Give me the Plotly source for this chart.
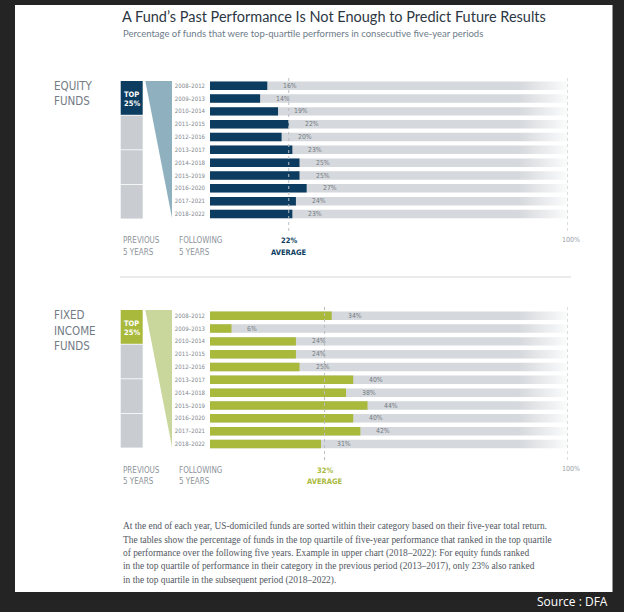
import plotly.graph_objects as go

# ---------------- data ----------------
periods = ["2008–2012", "2009–2013", "2010–2014", "2011–2015", "2012–2016", "2013–2017",
           "2014–2018", "2015–2019", "2016–2020", "2017–2021", "2018–2022"]
equity_pct = [16, 14, 19, 22, 20, 23, 25, 25, 27, 24, 23]
fixed_pct = [34, 6, 24, 24, 25, 40, 38, 44, 40, 42, 31]
full_scale = 100

title = "A Fund’s Past Performance Is Not Enough to Predict Future Results"
subtitle = "Percentage of funds that were top-quartile performers in consecutive five-year periods"
footnote = [
    "At the end of each year, US-domiciled funds are sorted within their category based on their five-year total return.",
    "The tables show the percentage of funds in the top quartile of five-year performance that ranked in the top quartile",
    "of performance over the following five years. Example in upper chart (2018–2022): For equity funds ranked",
    "in the top quartile of performance in their category in the previous period (2013–2017), only 23% also ranked",
    "in the top quartile in the subsequent period (2018–2022).",
]

# ---------------- styling ----------------
W, H = 624, 612
def X(px): return px / W
def Y(py): return 1 - py / H

NAVY = "#0c3d60"
OLIVE = "#a9b93b"
TRI_BLUE = "#8fb0bf"
TRI_GREEN = "#c9d79c"
BOX_GRAY = "#c9cdd2"
BAR_GRAY = "#d5d8dc"
TXT_GRAY = "#737a83"
COND = "Liberation Sans Narrow, DejaVu Sans Condensed, Roboto Condensed, Arial Narrow, sans-serif"

idx = list(range(len(periods)))

fig = go.Figure()

sections = [
    dict(vals=equity_pct, color=NAVY, tri=TRI_BLUE, xa="x", ya="y", name=["EQUITY", "FUNDS"], off=0),
    dict(vals=fixed_pct, color=OLIVE, tri=TRI_GREEN, xa="x2", ya="y2", name=["FIXED", "INCOME", "FUNDS"], off=229),
]

shapes = [
    dict(type="rect", xref="paper", yref="paper", x0=X(15), x1=X(612.5), y0=Y(592), y1=Y(5),
         fillcolor="white", line=dict(width=0), layer="below"),
    dict(type="line", xref="paper", yref="paper", x0=X(120), x1=X(571), y0=Y(277), y1=Y(277),
         line=dict(color="#d3d6da", width=1)),
]
annotations = []

for s in sections:
    vals = s["vals"]
    n = len(vals)
    # background 100% bars
    fig.add_trace(go.Bar(x=[full_scale] * n, y=idx, orientation="h", width=0.66,
                         marker=dict(color=BAR_GRAY, line=dict(width=0)),
                         xaxis=s["xa"], yaxis=s["ya"], hoverinfo="skip", showlegend=False))
    # fade overlay at right end
    fig.add_trace(go.Scatter(x=[86, 100, 100, 86, 86], y=[-0.5, -0.5, n - 0.5, n - 0.5, -0.5],
                             mode="lines", line=dict(width=0), fill="toself",
                             fillgradient=dict(type="horizontal",
                                               colorscale=[[0, "rgba(255,255,255,0)"],
                                                           [1, "rgba(255,255,255,0.92)"]]),
                             xaxis=s["xa"], yaxis=s["ya"], hoverinfo="skip", showlegend=False))
    # value bars
    fig.add_trace(go.Bar(x=vals, y=idx, orientation="h", width=0.66,
                         marker=dict(color=s["color"], line=dict(width=0)),
                         xaxis=s["xa"], yaxis=s["ya"], hoverinfo="skip", showlegend=False))
    # value labels
    for i, v in zip(idx, vals):
        annotations.append(dict(x=v, y=i, xref=s["xa"], yref=s["ya"], text=f"{v}%",
                                xanchor="left", yanchor="middle", xshift=14, showarrow=False,
                                font=dict(size=6.8, color=TXT_GRAY, family=COND)))
    avg = round(sum(vals) / n)
    off = s["off"]
    # dotted lines
    for xv in (avg, full_scale):
        shapes.append(dict(type="line", xref=s["xa"], yref="paper", x0=xv, x1=xv,
                           y0=Y(231 + off), y1=Y(76 + off), layer="above",
                           line=dict(color="#b9bec4", width=1, dash="dot")))
    annotations.append(dict(x=avg, y=Y(241 + off), xref=s["xa"], yref="paper",
                            text=f"<b>{avg}%</b>", showarrow=False, xanchor="center", yanchor="middle",
                            font=dict(size=7.5, color=s["color"], family=COND)))
    annotations.append(dict(x=avg, y=Y(252 + off), xref=s["xa"], yref="paper",
                            text="<b>AVERAGE</b>", showarrow=False, xanchor="center", yanchor="middle",
                            font=dict(size=7.5, color=s["color"], family=COND)))
    annotations.append(dict(x=full_scale, y=Y(240 + off), xref=s["xa"], yref="paper", xshift=3,
                            text="100%", showarrow=False, xanchor="center", yanchor="middle",
                            font=dict(size=7, color="#9aa0a7", family=COND)))
    # bottom labels
    for lbl, px in (("PREVIOUS", 120.5), ("FOLLOWING", 177)):
        annotations.append(dict(x=X(px), y=Y(241 + off), xref="paper", yref="paper", text=lbl,
                                showarrow=False, xanchor="left", yanchor="middle",
                                font=dict(size=8, color="#8d939a", family=COND)))
        annotations.append(dict(x=X(px), y=Y(252 + off), xref="paper", yref="paper", text="5 YEARS",
                                showarrow=False, xanchor="left", yanchor="middle",
                                font=dict(size=8, color="#8d939a", family=COND)))
    # section name
    for k, line in enumerate(s["name"]):
        annotations.append(dict(x=X(52), y=Y(86 + off + 15.5 * k), xref="paper", yref="paper", text=line,
                                showarrow=False, xanchor="left", yanchor="middle",
                                font=dict(size=11.5, color="#737b84", family=COND)))
    # quartile boxes
    box_top = 81 + off
    for q in range(4):
        y0 = box_top + q * 34.6
        shapes.append(dict(type="rect", xref="paper", yref="paper", x0=X(120.7), x1=X(142.7),
                           y0=Y(y0 + 33.8), y1=Y(y0), line=dict(width=0),
                           fillcolor=s["color"] if q == 0 else BOX_GRAY, layer="below"))
    annotations.append(dict(x=X(131.7), y=Y(box_top + 13), xref="paper", yref="paper", text="<b>TOP</b>",
                            showarrow=False, xanchor="center", yanchor="middle",
                            font=dict(size=7.5, color="white", family=COND)))
    annotations.append(dict(x=X(131.7), y=Y(box_top + 22), xref="paper", yref="paper", text="<b>25%</b>",
                            showarrow=False, xanchor="center", yanchor="middle",
                            font=dict(size=7.5, color="white", family=COND)))
    # funnel triangle
    t, b = box_top, box_top + 137
    shapes.append(dict(type="path", xref="paper", yref="paper",
                       path=f"M {X(145.3)} {Y(t)} L {X(172)} {Y(t)} L {X(172)} {Y(b)} Z",
                       fillcolor=s["tri"], line=dict(width=0), layer="below"))

axis_common_x = dict(range=[0, full_scale], domain=[X(210), X(568)], visible=False, fixedrange=True)
def yax(top, bottom):
    return dict(range=[len(periods) - 0.5, -0.5], domain=[Y(bottom), Y(top)], tickmode="array",
                tickvals=idx, ticktext=periods, showgrid=False, zeroline=False, showline=False,
                ticks="", ticklabelstandoff=4, tickfont=dict(size=6, color="#80868d", family=COND),
                fixedrange=True)

# title and subtitle
annotations.append(dict(x=X(120), y=Y(16), xref="paper", yref="paper", text=title, showarrow=False,
                        xanchor="left", yanchor="middle",
                        font=dict(size=14.5, color="#2c3743", family="Lato, Open Sans, sans-serif")))
annotations.append(dict(x=X(120.5), y=Y(33), xref="paper", yref="paper", text=subtitle, showarrow=False,
                        xanchor="left", yanchor="middle",
                        font=dict(size=9.5, color="#6d7b89", family="Lato, Open Sans, sans-serif")))
# footnote
for k, line in enumerate(footnote):
    annotations.append(dict(x=X(120.5), y=Y(526 + 13.5 * k), xref="paper", yref="paper", text=line,
                            showarrow=False, xanchor="left", yanchor="middle",
                            font=dict(size=9.4, color="#525862", family="Liberation Serif, DejaVu Serif, serif")))
# source
annotations.append(dict(x=X(610), y=Y(601), xref="paper", yref="paper", text="Source : DFA",
                        showarrow=False, xanchor="right", yanchor="middle",
                        font=dict(size=12, color="white", family="Open Sans, Liberation Sans, sans-serif")))

fig.update_layout(
    width=W, height=H, margin=dict(l=0, r=0, t=0, b=0),
    paper_bgcolor="#242424", plot_bgcolor="rgba(0,0,0,0)",
    barmode="overlay", showlegend=False,
    xaxis=dict(**axis_common_x, anchor="y"),
    yaxis=dict(**yax(79.3, 220.4), anchor="x"),
    xaxis2=dict(**axis_common_x, anchor="y2"),
    yaxis2=dict(**yax(309.3, 450.4), anchor="x2"),
    shapes=shapes, annotations=annotations,
)

fig.write_html("out.html", config={"displayModeBar": False},
               post_script="document.body.style.margin='0';document.body.style.overflow='hidden';")
